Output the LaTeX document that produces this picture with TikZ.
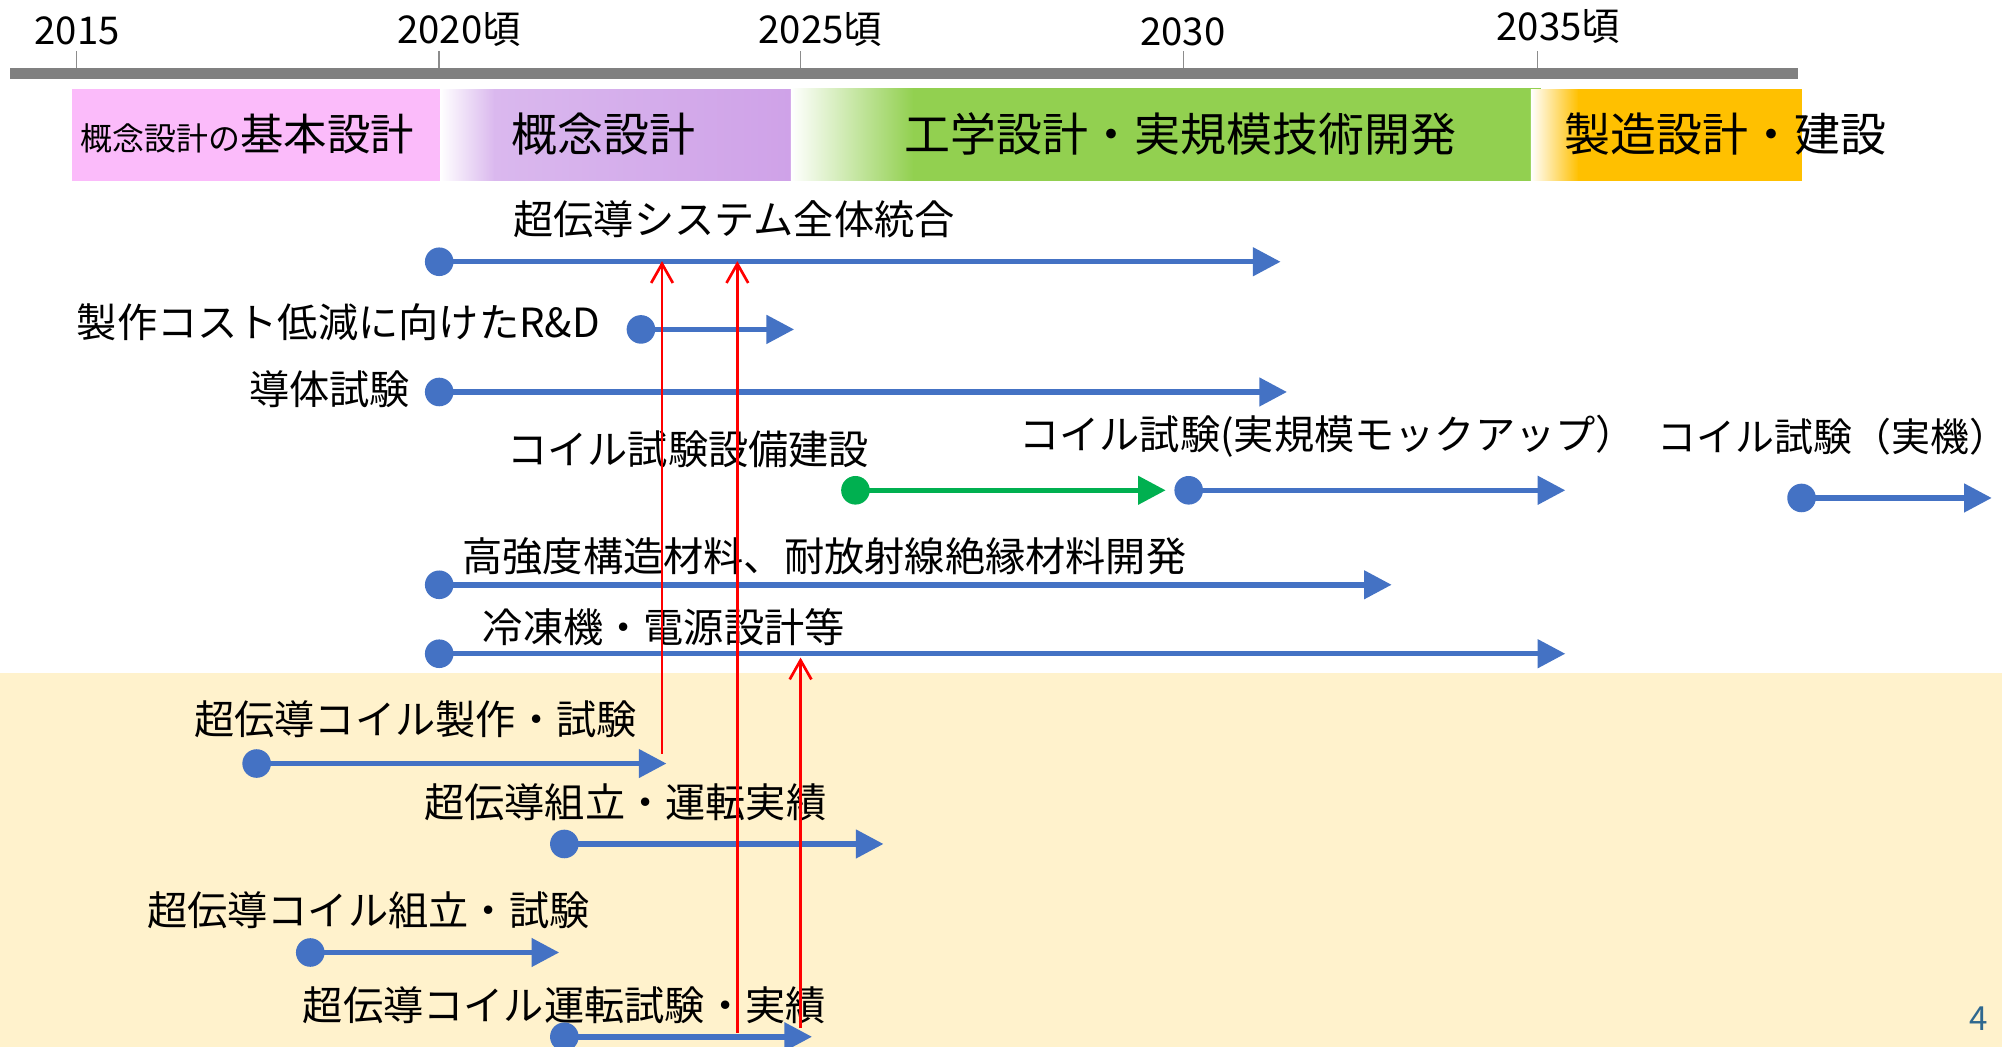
\documentclass[tikz,border=0pt]{standalone}
\usepackage{fontspec}
\setmainfont{Noto Sans CJK JP}
\usetikzlibrary{arrows.meta}
\definecolor{barblue}{HTML}{4472C4}
\definecolor{bargreen}{HTML}{00B050}
\definecolor{bandbg}{HTML}{FFF2CC}
\definecolor{axisgray}{RGB}{128,128,128}
\definecolor{tickgray}{RGB}{140,140,140}
\definecolor{pinkph}{RGB}{251,187,250}
\definecolor{purA}{RGB}{218,184,238}
\definecolor{purB}{RGB}{207,162,232}
\definecolor{grnph}{HTML}{92D050}
\definecolor{orgph}{HTML}{FFC000}
\definecolor{pagenum}{RGB}{47,104,143}
\begin{document}
\begin{tikzpicture}[x=1pt,y=-1pt,
  year/.style={anchor=west, inner sep=0pt, font=\fontsize{30}{34}\selectfont},
  phase/.style={inner sep=0pt, font=\fontsize{36}{40}\selectfont},
  lbl/.style={anchor=west, inner sep=0pt, font=\fontsize{31.5}{36}\selectfont},
  bar/.style={draw=barblue, line width=4.3pt, -{Triangle[length=21.7pt,width=21.7pt]}},
  gbar/.style={draw=bargreen, line width=4.3pt, -{Triangle[length=21.7pt,width=21.7pt]}},
  bdot/.style={fill=barblue},
  gdot/.style={fill=bargreen},
  redarr/.style={draw=red, line width=2.1pt, -{Straight Barb[length=15pt,width=17pt]}}]
\useasboundingbox (0,0) rectangle (1568,820);
\fill[white] (0,0) rectangle (1568,820);
\fill[bandbg] (0,527) rectangle (1568,820);
% timeline axis
\foreach \t in {60,344,627,927,1204}
  \draw[tickgray, line width=1.2pt] (\t,40) -- (\t,55);
\fill[axisgray] (8,53) rectangle (1408,61.5);
\node[year] (y2015) at (27,24) {2015};
\node[year] (y2020) at (311,23) {2020頃};
\node[year] (y2025) at (594,23) {2025頃};
\node[year] (y2030) at (893,25) {2030};
\node[year] (y2035) at (1172,21) {2035頃};
% phase boxes
\fill[pinkph] (56.5,70) rectangle (344.9,141.5);
\shade[left color=white, right color=purA] (344.7,70) rectangle (387.5,141.5);
\shade[left color=purA, right color=purB] (387,70) rectangle (619.5,141.5);
\shade[left color=white, right color=grnph] (619.5,69) rectangle (715.5,141.5);
\fill[grnph] (715,69) rectangle (1207,141.5);
\shade[left color=white, right color=orgph] (1199,70) rectangle (1236.5,141.5);
\fill[orgph] (1236,70) rectangle (1411,141.5);
\node[anchor=west, inner sep=0pt] (ph1) at (63,105)
  {\fontsize{25}{30}\selectfont 概念設計の\fontsize{34}{40}\selectfont 基本設計};
\node[phase] (ph2) at (473,105) {概念設計};
\node[phase] (ph3) at (924.5,105) {工学設計・実規模技術開発};
\node[phase, anchor=west] (ph4) at (1225,105) {製造設計・建設};
% labels
\node[lbl] (t1) at (402,172) {超伝導システム全体統合};
\node[lbl] (t2) at (60,252) {製作コスト低減に向けたR\&D};
\node[lbl] (t3) at (195,305) {導体試験};
\node[lbl] (t4) at (397,352) {コイル試験設備建設};
\node[lbl] (t5) at (798,342) {コイル試験(実規模モックアップ）};
\node[lbl, font=\fontsize{30.5}{35}\selectfont] (t6) at (1298,342) {コイル試験（実機）};
\node[lbl] (t7) at (362,436) {高強度構造材料、耐放射線絶縁材料開発};
\node[lbl] (t8) at (378,491) {冷凍機・電源設計等};
\node[lbl] (t9) at (152,563) {超伝導コイル製作・試験};
\node[lbl] (t10) at (332,628) {超伝導組立・運転実績};
\node[lbl] (t11) at (115,713) {超伝導コイル組立・試験};
\node[lbl] (t12) at (237,787) {超伝導コイル運転試験・実績};
% bar end points
\coordinate (s1) at (344,205);  \coordinate (e1) at (1003,205);
\coordinate (s2) at (502,258);  \coordinate (e2) at (622,258);
\coordinate (s3) at (344,307);  \coordinate (e3) at (1008,307);
\coordinate (s4) at (670,384);  \coordinate (e4) at (913,384);
\coordinate (s5) at (931,384);  \coordinate (e5) at (1226,384);
\coordinate (s6) at (1411,390); \coordinate (e6) at (1560,390);
\coordinate (s7) at (344,458);  \coordinate (e7) at (1090,458);
\coordinate (s8) at (344,512);  \coordinate (e8) at (1226,512);
\coordinate (s9) at (201,598);  \coordinate (e9) at (522,598);
\coordinate (s10) at (442,661); \coordinate (e10) at (692,661);
\coordinate (s11) at (243,746); \coordinate (e11) at (438,746);
\coordinate (s12) at (442,812); \coordinate (e12) at (636,812);
\foreach \i in {1,2,3,5,6,7,8,9,10,11,12} {
  \draw[bar] (s\i) -- (e\i);
  \fill[bdot] (s\i) circle[radius=11.2pt];
}
\draw[gbar] (s4) -- (e4);
\fill[gdot] (s4) circle[radius=11.2pt];
% red arrows
\coordinate (r1a) at (518.5,590.5); \coordinate (r1b) at (518.5,204.5);
\coordinate (r2a) at (577.5,809);   \coordinate (r2b) at (577.5,204.5);
\coordinate (r3a) at (627,805);     \coordinate (r3b) at (627,515);
\draw[redarr] (r1a) -- (r1b);
\draw[redarr] (r2a) -- (r2b);
\draw[redarr] (r3a) -- (r3b);
% page number
\node[inner sep=0pt, text=pagenum, font=\fontsize{26}{30}\selectfont] (pg) at (1550,798) {4};
\end{tikzpicture}
\end{document}
